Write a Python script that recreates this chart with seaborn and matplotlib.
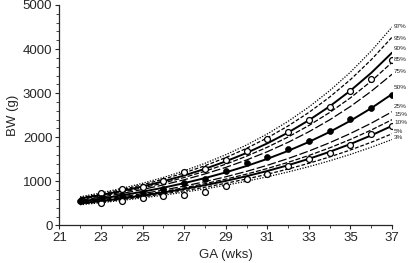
import numpy as np
import pandas as pd
import matplotlib
matplotlib.use("Agg")
import matplotlib.pyplot as plt
from matplotlib.ticker import MultipleLocator
import seaborn as sns

# ---- data ----
weeks = list(range(22, 38))
pct_labels = ["97%", "95%", "90%", "85%", "75%", "50%", "25%", "15%", "10%", "5%", "3%"]
p97 = [650, 740, 841, 957, 1089, 1239, 1410, 1604, 1825, 2076, 2362, 2687, 3057, 3478, 3957, 4500]
p95 = [630, 716, 813, 924, 1050, 1192, 1355, 1539, 1749, 1987, 2257, 2564, 2913, 3309, 3760, 4270]
p90 = [610, 691, 782, 885, 1002, 1134, 1284, 1453, 1645, 1862, 2108, 2387, 2702, 3059, 3462, 3920]
p85 = [590, 667, 754, 852, 963, 1088, 1230, 1390, 1571, 1775, 2006, 2268, 2563, 2896, 3274, 3700]
p75 = [570, 642, 724, 816, 920, 1037, 1169, 1317, 1485, 1673, 1886, 2126, 2396, 2700, 3044, 3430]
p50 = [545, 610, 684, 766, 857, 960, 1075, 1204, 1349, 1511, 1692, 1895, 2122, 2376, 2661, 2980]
p25 = [525, 584, 649, 722, 803, 893, 993, 1104, 1227, 1365, 1518, 1688, 1877, 2087, 2320, 2580]
p15 = [510, 566, 627, 695, 771, 855, 948, 1051, 1165, 1292, 1432, 1588, 1761, 1952, 2165, 2400]
p10 = [500, 553, 611, 676, 748, 827, 914, 1011, 1118, 1236, 1367, 1512, 1672, 1848, 2044, 2260]
p5 = [485, 534, 589, 649, 715, 788, 868, 957, 1054, 1162, 1280, 1411, 1555, 1713, 1888, 2080]
p3 = [470, 517, 568, 625, 687, 755, 830, 913, 1004, 1104, 1214, 1334, 1467, 1613, 1774, 1950]

obs_weeks_hi = list(range(23, 38))
obs_hi = [732, 823, 882, 1018, 1215, 1284, 1489, 1693, 1959, 2118, 2382, 2680, 3057, 3313, 3745]
obs_weeks_mid = list(range(22, 38))
obs_mid = [556, 632, 693, 745, 830, 966, 1050, 1239, 1413, 1564, 1732, 1927, 2140, 2414, 2664, 2966]
obs_weeks_lo = list(range(23, 38))
obs_lo = [505, 557, 618, 677, 700, 768, 905, 1057, 1170, 1352, 1504, 1655, 1814, 2072, 2255]

x_ticks = [21, 23, 25, 27, 29, 31, 33, 35, 37]
y_ticks = [0, 1000, 2000, 3000, 4000, 5000]

curves = [p97, p95, p90, p85, p75, p50, p25, p15, p10, p5, p3]

# ---- styling ----
sns.set_style("ticks")
plt.rcParams["font.family"] = ["Liberation Sans", "DejaVu Sans"]

styles = {
    "97%": dict(ls=(0, (1, 1.2)), lw=0.9),
    "95%": dict(ls=(0, (3, 1.5)), lw=0.9),
    "90%": dict(ls="-", lw=1.4),
    "85%": dict(ls=(0, (4, 1.5)), lw=0.9),
    "75%": dict(ls=(0, (7, 2)), lw=0.9),
    "50%": dict(ls="-", lw=1.4),
    "25%": dict(ls=(0, (7, 2)), lw=0.9),
    "15%": dict(ls=(0, (4, 1.5)), lw=0.9),
    "10%": dict(ls="-", lw=1.4),
    "5%": dict(ls=(0, (3, 1.5)), lw=0.9),
    "3%": dict(ls=(0, (1, 1.2)), lw=0.9),
}

fig = plt.figure(figsize=(4.08, 2.63), dpi=100)
ax = fig.add_axes([0.1454, 0.1426, 0.961 - 0.1454, 0.981 - 0.1426])

for lab, vals in zip(pct_labels, curves):
    df = pd.DataFrame({"GA": weeks, "BW": vals})
    st = styles[lab]
    sns.lineplot(data=df, x="GA", y="BW", ax=ax, color="black",
                 linestyle=st["ls"], linewidth=st["lw"])

hi = pd.DataFrame({"GA": obs_weeks_hi, "BW": obs_hi})
mid = pd.DataFrame({"GA": obs_weeks_mid, "BW": obs_mid})
lo = pd.DataFrame({"GA": obs_weeks_lo, "BW": obs_lo})
sns.scatterplot(data=hi, x="GA", y="BW", ax=ax, s=18, facecolor="white",
                edgecolor="black", linewidth=0.9, zorder=5)
sns.scatterplot(data=lo, x="GA", y="BW", ax=ax, s=18, facecolor="white",
                edgecolor="black", linewidth=0.9, zorder=5)
sns.scatterplot(data=mid, x="GA", y="BW", ax=ax, s=18, color="black",
                edgecolor="black", linewidth=0.5, zorder=5)

# right-side percentile labels
label_y = [4505, 4240, 4010, 3760, 3490, 3125, 2690, 2510, 2340, 2130, 1990]
for lab, yv in zip(pct_labels, label_y):
    ax.annotate(lab, xy=(1.0, yv), xycoords=("axes fraction", "data"),
                xytext=(1.5, 0), textcoords="offset points",
                fontsize=4.6, va="center", ha="left", annotation_clip=False)

ax.set_xlim(21, 37)
ax.set_ylim(0, 5000)
ax.set_xticks(x_ticks)
ax.set_yticks(y_ticks)
ax.xaxis.set_minor_locator(MultipleLocator(1))
ax.yaxis.set_minor_locator(MultipleLocator(200))
ax.tick_params(axis="both", which="major", length=3, width=0.8, labelsize=9.5, pad=2, direction="out")
ax.tick_params(axis="both", which="minor", length=2, width=0.6, direction="out")
ax.set_xlabel("GA (wks)", fontsize=9.5, labelpad=3)
ax.set_ylabel("BW (g)", fontsize=9.5, labelpad=3)
sns.despine(ax=ax)
for sp in ["left", "bottom"]:
    ax.spines[sp].set_linewidth(0.9)

fig.savefig("out.png", dpi=100)
